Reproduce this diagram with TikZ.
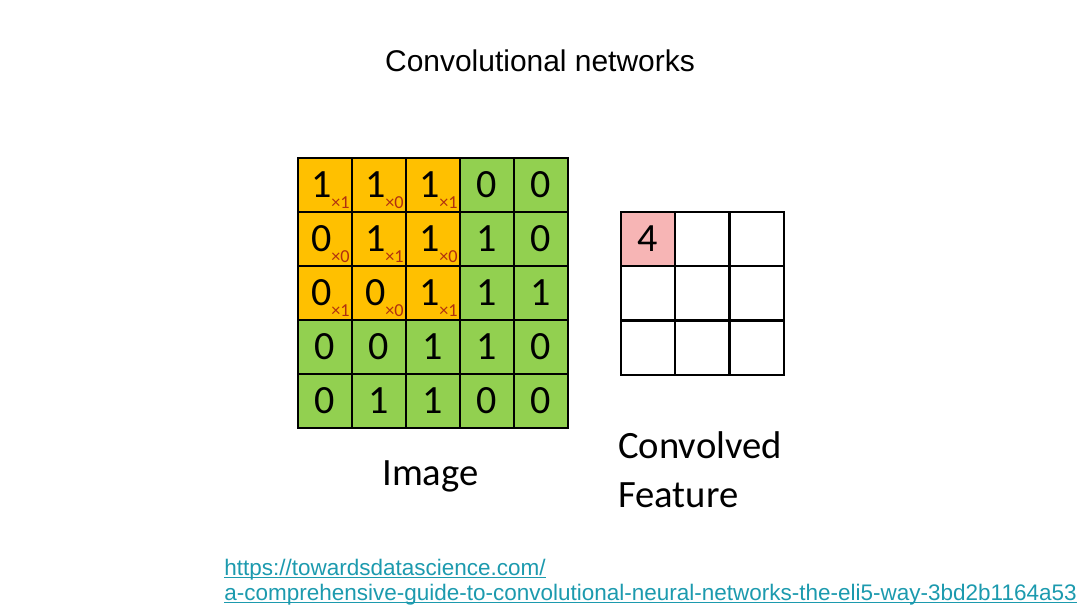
\documentclass[tikz,border=0pt]{standalone}
\usepackage{fontspec}
\setmainfont{Liberation Sans}
\newfontfamily\calfont{Carlito}
\definecolor{orng}{HTML}{FFC000}
\definecolor{grn}{HTML}{92D050}
\definecolor{pnk}{HTML}{F7B5B5}
\definecolor{subc}{HTML}{B03010}
\definecolor{lnk}{HTML}{1C9AAE}
\newlength{\pxu}
\setlength{\pxu}{0.025cm}
\tikzset{
  cellbox/.style={draw=black, line width=1.5pt, minimum width=54\pxu, minimum height=54\pxu, inner sep=0pt, outer sep=0pt, font=\calfont\fontsize{28.5}{28}\selectfont},
  subtxt/.style={inner sep=0pt, font=\calfont\fontsize{13}{13}\selectfont, text=subc, anchor=south east},
  lbl/.style={inner sep=0pt, font=\calfont\fontsize{27.5}{30}\selectfont, anchor=base west},
  linktxt/.style={inner sep=0pt, anchor=base west, text=lnk, font=\fontsize{16}{18}\selectfont},
  ulline/.style={draw=lnk, line width=0.8pt},
}
\begin{document}
\begin{tikzpicture}[x=0.025cm, y=-0.025cm]
\useasboundingbox (0,0) rectangle (1080,608);
\node[font=\fontsize{21.3}{24}\selectfont, anchor=base] (title) at (540,71) {Convolutional networks};
% image grid
\foreach \r/\rowv in {0/{1,1,1,0,0},1/{0,1,1,1,0},2/{0,0,1,1,1},3/{0,0,1,1,0},4/{0,1,1,0,0}}{
  \foreach \v [count=\c from 0] in \rowv {
    \pgfmathtruncatemacro{\isor}{(\r<3)&&(\c<3)}
    \ifnum\isor=1
      \node[cellbox, fill=orng] (i\r\c) at ({325+54*\c},{185+54*\r}) {\hspace*{-7\pxu}\v};
    \else
      \node[cellbox, fill=grn] (i\r\c) at ({325+54*\c},{185+54*\r}) {\v};
    \fi
  }
}
\foreach \r/\kv in {0/{1,0,1},1/{0,1,0},2/{1,0,1}}{
  \foreach \k [count=\c from 0] in \kv {
    \node[subtxt] (s\r\c) at ([xshift=-2\pxu,yshift=3\pxu]i\r\c.south east) {×\k};
  }
}
% feature map
\foreach \r in {0,1,2}{
  \foreach \c in {0,1,2}{
    \node[cellbox, minimum width=54.3\pxu, minimum height=54.3\pxu] (f\r\c) at ({648+54.3*\c},{239+54.3*\r}) {};
  }
}
\node[cellbox, minimum width=54.3\pxu, minimum height=54.3\pxu, fill=pnk] (f00) at (648,239) {4};
\node[lbl] (imglbl) at (382,485) {Image};
\node[lbl] (conv) at (618,458) {Convolved};
\node[lbl] (feat) at (618,507) {Feature};
\node[linktxt] (l1) at (224,575) {https://towardsdatascience.com/};
\node[linktxt] (l2) at (224,600) {a-comprehensive-guide-to-convolutional-neural-networks-the-eli5-way-3bd2b1164a53};
\draw[ulline] ([yshift=-2.5\pxu]l1.base west) -- ([yshift=-2.5\pxu]l1.base east);
\draw[ulline] ([yshift=-2.5\pxu]l2.base west) -- ([yshift=-2.5\pxu]l2.base east);
\end{tikzpicture}
\end{document}
